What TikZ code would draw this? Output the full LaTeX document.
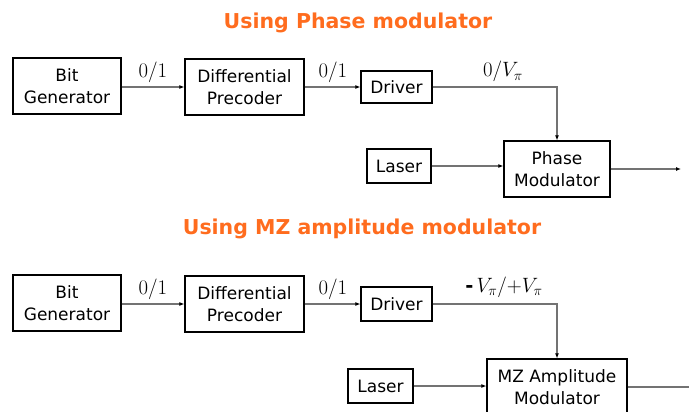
\documentclass[tikz,border=0pt]{standalone}
\usepackage{fontspec}
\newfontfamily\boxfont{DejaVu Sans}
\usetikzlibrary{arrows.meta}
\definecolor{titleorange}{RGB}{255,108,30}
\begin{document}
\begin{tikzpicture}[x=1pt,y=-1pt,
  blk/.style={draw, line width=1.2pt, inner sep=0pt, align=center,
    font=\boxfont\fontsize{17}{21.5}\selectfont},
  conn/.style={draw=black!55, line width=1.3pt, -{Latex[length=5pt,width=4pt,black]}},
  plain/.style={draw=black!55, line width=1.3pt},
  lbl/.style={anchor=base, inner sep=0pt, font=\fontsize{19.5}{22}\selectfont},
  ttl/.style={text=titleorange, font=\boxfont\bfseries\fontsize{20.5}{24}\selectfont}]
\useasboundingbox (0,0) rectangle (689,412);
\clip (0,0) rectangle (689,412);
% ---------- top ----------
\node[ttl] (t1) at (358,23) {Using Phase modulator};
\node[blk, minimum width=108pt, minimum height=56pt] (bg1) at (67,86) {Bit\\Generator};
\node[blk, minimum width=119pt, minimum height=56pt] (dp1) at (244.5,87) {Differential\\Precoder};
\node[blk, minimum width=71pt, minimum height=32pt] (dr1) at (396.5,87) {Driver};
\node[blk, minimum width=64pt, minimum height=34pt] (la1) at (399,166) {Laser};
\node[blk, minimum width=106pt, minimum height=56pt] (pm1) at (557,169) {Phase\\Modulator};
\coordinate (out1) at (681,169);
\draw[conn] (bg1.east |- dp1) -- (dp1);
\draw[conn] (dp1) -- (dr1);
\draw[conn] (dr1.east) -| (pm1.north);
\draw[conn] (la1.east) -- (la1.east -| pm1.west);
\draw[conn] (pm1.east) -- (out1);
\node[lbl] (l11) at (153,78) {$0/1$};
\node[lbl] (l12) at (333,78) {$0/1$};
\node[lbl] (l13) at (503,77) {$0/V_{\pi}$};
% ---------- bottom ----------
\node[ttl] (t2) at (362,229) {Using MZ amplitude modulator};
\node[blk, minimum width=108pt, minimum height=56pt] (bg2) at (67,303) {Bit\\Generator};
\node[blk, minimum width=119pt, minimum height=56pt] (dp2) at (244.5,304) {Differential\\Precoder};
\node[blk, minimum width=71pt, minimum height=34pt] (dr2) at (396.5,304) {Driver};
\node[blk, minimum width=65pt, minimum height=34pt] (la2) at (380.5,386) {Laser};
\node[blk, minimum width=140pt, minimum height=56pt] (mz2) at (557,387) {MZ Amplitude\\Modulator};
\coordinate (out2) at (692,387);
\draw[conn] (bg2.east |- dp2) -- (dp2);
\draw[conn] (dp2) -- (dr2);
\draw[conn] (dr2.east) -| (mz2.north);
\draw[conn] (la2.east) -- (la2.east -| mz2.west);
\draw[plain] (mz2.east) -- (out2);
\node[lbl] (l21) at (153,294) {$0/1$};
\node[lbl] (l22) at (333,294) {$0/1$};
\node[lbl] (l23) at (504,292) {{\boxfont\bfseries -}\,$V_{\pi}/{+}V_{\pi}$};
\end{tikzpicture}
\end{document}
